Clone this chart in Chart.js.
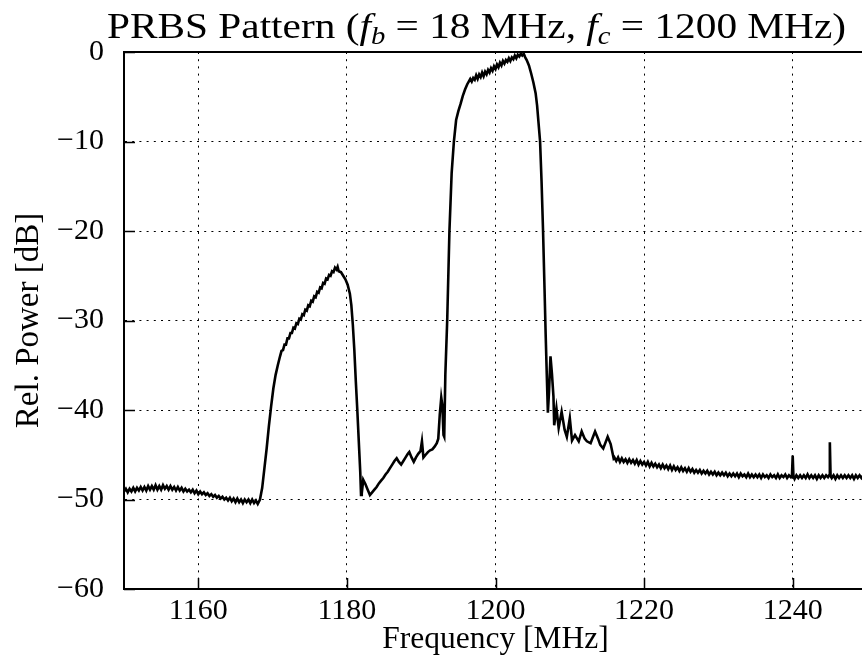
<!DOCTYPE html>
<html>
<head>
<meta charset="utf-8">
<script src="https://cdn.jsdelivr.net/npm/chart.js@4/dist/chart.umd.min.js"></script>
<style>
  html, body { margin: 0; padding: 0; background: #fff; overflow: hidden; }
  #wrap { width: 862px; height: 669px; overflow: hidden; position: relative; }
  canvas { display: block; }
</style>
</head>
<body>
<div id="wrap"><canvas id="c" width="870" height="669"></canvas></div>
<script>
// ---- data ----
const titleParts = [
  ["PRBS Pattern (", "n"], ["f", "i"], ["b", "s"], [" = 18 MHz, ", "n"],
  ["f", "i"], ["c", "s"], [" = 1200 MHz)", "n"]
];
const xAxisTitle = "Frequency [MHz]";
const yAxisTitle = "Rel. Power [dB]";
const xTickValues = [1160, 1180, 1200, 1220, 1240];
const yTickValues = [-60, -50, -40, -30, -20, -10, 0];
const yTickLabels = ["\u221260", "\u221250", "\u221240", "\u221230", "\u221220", "\u221210", "0"];

const freqMHz = [
  1150,1150.25,1150.5,1150.75,1151,1151.25,1151.5,1151.75,
  1152,1152.25,1152.5,1152.75,1153,1153.25,1153.5,1153.75,
  1154,1154.25,1154.5,1154.75,1155,1155.25,1155.5,1155.75,
  1156,1156.25,1156.5,1156.75,1157,1157.25,1157.5,1157.75,
  1158,1158.25,1158.5,1158.75,1159,1159.25,1159.5,1159.75,
  1160,1160.25,1160.5,1160.75,1161,1161.25,1161.5,1161.75,
  1162,1162.25,1162.5,1162.75,1163,1163.25,1163.5,1163.75,
  1164,1164.25,1164.5,1164.75,1165,1165.25,1165.5,1165.75,
  1166,1166.25,1166.5,1166.75,1167,1167.25,1167.5,1167.75,
  1168,1168.3,
  1168.6,1168.9,1169.2,1169.5,1169.8,1170.1,1170.4,1170.7,
  1171.0,1171.2,1171.4,1171.6,1171.8,1172.0,1172.2,1172.4,
  1172.6,1172.8,1173.0,1173.2,1173.4,1173.6,1173.8,1174.0,
  1174.2,1174.4,1174.6,1174.8,1175.0,1175.2,1175.4,1175.6,
  1175.8,1176.0,1176.2,1176.4,1176.6,1176.8,1177.0,1177.2,
  1177.4,1177.6,1177.8,1178.0,1178.2,1178.4,1178.6,
  1178.75,1178.9,1179.2,1179.5,1179.8,1180.1,1180.4,1180.6,1180.8,1181.0,1181.2,1181.4,1181.6,1181.8,1181.9,1182.0,1182.2,1182.5,1182.8,
  1183.1,1183.4,1183.7,1184.0,1184.3,1184.6,1184.9,1185.2,1185.5,1185.8,1186.1,1186.4,1186.7,
  1187.0,1187.3,1187.6,1187.9,1188.2,1188.4,1188.7,1189.0,1189.3,1189.6,1189.9,1190.1,1190.3,
  1190.6,1190.9,1191.2,1191.5,1191.8,1192.1,1192.3,1192.5,1192.7,1192.85,1193.0,1193.1,1193.25,
  1193.5,1193.8,1194.1,1194.4,1194.7,1195.0,1195.3,1195.6,1195.9,1196.2,
  1196.4,1196.6,1196.8,1197.0,1197.2,1197.4,1197.6,1197.8,
  1198.0,1198.2,1198.4,1198.6,1198.8,1199.0,1199.2,1199.4,
  1199.6,1199.8,1200.0,1200.2,1200.4,1200.6,1200.8,1201.0,
  1201.2,1201.4,1201.6,1201.8,1202.0,1202.2,1202.4,1202.6,
  1202.8,1203.0,1203.2,1203.4,1203.6,1203.8,1204.0,1204.2,
  1204.5,1204.8,1205.1,1205.4,1205.6,1205.8,1206.0,1206.2,1206.4,1206.6,1206.75,1206.9,1207.05,
  1207.2,1207.4,1207.6,1207.8,1207.9,1208.2,1208.5,1208.9,1209.3,1209.6,1210.0,1210.3,1210.7,
  1211.2,1211.6,1212.0,1212.3,1212.8,1213.4,1213.8,1214.1,1214.5,1215.1,1215.5,1215.9,
  1216,1216.25,1216.5,1216.75,1217,1217.25,1217.5,1217.75,
  1218,1218.25,1218.5,1218.75,1219,1219.25,1219.5,1219.75,
  1220,1220.25,1220.5,1220.75,1221,1221.25,1221.5,1221.75,
  1222,1222.25,1222.5,1222.75,1223,1223.25,1223.5,1223.75,
  1224,1224.25,1224.5,1224.75,1225,1225.25,1225.5,1225.75,
  1226,1226.25,1226.5,1226.75,1227,1227.25,1227.5,1227.75,
  1228,1228.25,1228.5,1228.75,1229,1229.25,1229.5,1229.75,
  1230,1230.25,1230.5,1230.75,1231,1231.25,1231.5,1231.75,
  1232,1232.25,1232.5,1232.75,1233,1233.25,1233.5,1233.75,
  1234,1234.25,1234.5,1234.75,1235,1235.25,1235.5,1235.75,
  1236,1236.25,1236.5,1236.75,1237,1237.25,1237.5,1237.75,
  1238,1238.25,1238.5,1238.75,1239,1239.25,1239.5,1239.75,
  1239.9,1240,1240.1,1240.25,1240.5,1240.75,1241,1241.25,
  1241.5,1241.75,1242,1242.25,1242.5,1242.75,1243,1243.25,
  1243.5,1243.75,1244,1244.25,1244.5,1244.75,1244.9,1245,
  1245.1,1245.25,1245.5,1245.75,1246,1246.25,1246.5,1246.75,
  1247,1247.25,1247.5,1247.75,1248,1248.25,1248.5,1248.75,
  1249,1249.25,1249.5,1249.75,1250
];
const relPowerDb = [
  -49.1,-48.8,-49.2,-48.8,-49.1,-48.7,-49.1,-48.7,
  -49.0,-48.6,-49.0,-48.6,-49.0,-48.5,-48.9,-48.5,
  -48.9,-48.4,-48.9,-48.5,-48.9,-48.4,-48.8,-48.5,
  -48.9,-48.5,-48.9,-48.6,-49.0,-48.6,-49.0,-48.7,
  -49.1,-48.8,-49.1,-48.9,-49.2,-48.9,-49.3,-49.0,
  -49.4,-49.1,-49.4,-49.2,-49.5,-49.3,-49.6,-49.4,
  -49.7,-49.5,-49.8,-49.6,-49.9,-49.7,-50.0,-49.8,
  -50.1,-49.8,-50.2,-49.9,-50.3,-49.9,-50.3,-50.0,
  -50.4,-50.0,-50.3,-50.0,-50.4,-50.0,-50.4,-50.1,
  -50.5,-50.0,
  -48.7,-46.5,-44.3,-41.8,-39.6,-37.6,-36.1,-35.0,
  -34.0,-33.4,-33.3,-32.7,-32.7,-32.0,-32.0,-31.4,
  -31.4,-30.8,-30.9,-30.3,-30.4,-29.8,-29.9,-29.3,
  -29.4,-28.8,-28.9,-28.3,-28.4,-27.8,-27.9,-27.3,
  -27.4,-26.8,-26.9,-26.3,-26.4,-25.8,-25.9,-25.3,
  -25.4,-24.9,-25.0,-24.5,-24.6,-24.1,-24.3,
  -24.0,-24.5,-24.6,-25.0,-25.4,-26.0,-27.0,-28.3,-30.5,-33.3,-36.8,-40.0,-43.5,-47.0,-49.5,-49.3,-47.8,-48.3,-48.9,
  -49.5,-49.2,-48.9,-48.6,-48.2,-47.9,-47.6,-47.2,-46.9,-46.5,-46.1,-45.7,-45.4,
  -45.8,-46.1,-45.7,-45.3,-44.9,-44.7,-45.3,-45.8,-45.3,-44.9,-44.6,-43.5,-45.3,
  -45.0,-44.7,-44.5,-44.4,-44.1,-43.7,-43.2,-40.5,-38.6,-39.5,-42.8,-43.0,-36.0,
  -30.0,-20.0,-13.5,-10.0,-7.6,-6.6,-5.8,-4.9,-4.2,-3.6,
  -3.3,-3.0,-3.3,-2.9,-3.1,-2.6,-3.0,-2.5,
  -2.8,-2.3,-2.7,-2.2,-2.5,-2.0,-2.3,-1.8,
  -2.1,-1.6,-1.9,-1.4,-1.7,-1.2,-1.5,-1.0,
  -1.3,-0.9,-1.1,-0.7,-1.0,-0.6,-0.8,-0.4,
  -0.7,-0.3,-0.5,-0.2,-0.4,-0.2,-0.6,-0.9,
  -1.5,-2.4,-3.4,-4.6,-6.0,-8.0,-10.0,-14.5,-20.0,-26.5,-31.5,-36.0,-40.3,
  -38.0,-34.0,-36.0,-38.5,-41.7,-39.8,-42.0,-40.2,-42.2,-43.0,-40.9,-43.4,-42.8,
  -43.5,-42.4,-43.2,-43.5,-43.7,-42.4,-43.2,-43.9,-44.3,-43.0,-43.8,-45.4,
  -45.3,-45.7,-45.3,-45.8,-45.4,-45.8,-45.5,-45.9,
  -45.5,-45.9,-45.6,-46.0,-45.6,-46.1,-45.7,-46.1,
  -45.8,-46.2,-45.8,-46.3,-45.9,-46.3,-46.0,-46.4,
  -46.1,-46.5,-46.1,-46.5,-46.2,-46.6,-46.2,-46.7,
  -46.3,-46.7,-46.4,-46.8,-46.4,-46.8,-46.5,-46.9,
  -46.5,-46.9,-46.6,-47.0,-46.7,-47.0,-46.7,-47.1,
  -46.8,-47.1,-46.8,-47.2,-46.9,-47.2,-46.9,-47.3,
  -47.0,-47.3,-47.0,-47.3,-47.0,-47.4,-47.1,-47.4,
  -47.1,-47.4,-47.1,-47.5,-47.1,-47.4,-47.2,-47.5,
  -47.1,-47.5,-47.2,-47.5,-47.2,-47.5,-47.2,-47.6,
  -47.2,-47.5,-47.3,-47.6,-47.2,-47.5,-47.3,-47.6,
  -47.2,-47.6,-47.3,-47.5,-47.2,-47.6,-47.3,-47.5,
  -47.3,-45.1,-47.4,-47.7,-47.3,-47.6,-47.3,-47.6,
  -47.3,-47.6,-47.2,-47.6,-47.3,-47.6,-47.3,-47.7,
  -47.3,-47.6,-47.3,-47.6,-47.3,-47.5,-47.3,-43.6,
  -47.4,-47.6,-47.3,-47.7,-47.3,-47.6,-47.3,-47.6,
  -47.3,-47.6,-47.3,-47.6,-47.3,-47.7,-47.3,-47.6,
  -47.3,-47.6,-47.3,-47.5,-47.3
];

const nPts = Math.min(freqMHz.length, relPowerDb.length);
const points = freqMHz.slice(0, nPts).map((f, i) => ({ x: f, y: relPowerDb[i] }));
const SERIF = "'Liberation Serif', 'Times New Roman', serif";

// title drawn as text segments (with italic f and subscripts)
const titlePlugin = {
  id: 'mathTitle',
  afterDraw(chart) {
    const ctx = chart.ctx;
    const size = 36;
    const fonts = {
      n: `${size}px ${SERIF}`,
      i: `italic ${size}px ${SERIF}`,
      s: `italic ${Math.round(size * 0.7)}px ${SERIF}`
    };
    ctx.save();
    let total = 0;
    for (const [t, k] of titleParts) { ctx.font = fonts[k]; total += ctx.measureText(t).width; }
    const targetW = 739, x0 = 107, base = 38;
    const sx = targetW / total;
    ctx.translate(x0, base);
    ctx.scale(sx, 1);
    ctx.fillStyle = '#000';
    ctx.textBaseline = 'alphabetic';
    ctx.textAlign = 'left';
    let x = 0;
    for (const [t, k] of titleParts) {
      ctx.font = fonts[k];
      ctx.fillText(t, x, k === 's' ? 6 : 0);
      x += ctx.measureText(t).width;
    }
    ctx.restore();
  }
};

// inward tick marks + top frame line (matplotlib classic look)
const framePlugin = {
  id: 'frame',
  afterDatasetsDraw(chart) {
    const { ctx, chartArea: a, scales } = chart;
    ctx.save();
    ctx.strokeStyle = '#000';
    ctx.lineWidth = 1.5;
    ctx.beginPath();
    for (const v of xTickValues) {
      const px = Math.round(scales.x.getPixelForValue(v)) + 0.5;
      ctx.moveTo(px, a.bottom); ctx.lineTo(px, a.bottom - 11);
    }
    for (const v of yTickValues) {
      const py = Math.round(scales.y.getPixelForValue(v)) + 0.5;
      ctx.moveTo(a.left, py); ctx.lineTo(a.left + 11, py);
    }
    ctx.stroke();
    ctx.lineWidth = 2;
    ctx.beginPath();
    ctx.moveTo(a.left - 1, a.top); ctx.lineTo(a.right + 2, a.top);
    ctx.stroke();
    ctx.restore();
  }
};

new Chart(document.getElementById('c'), {
  type: 'line',
  data: {
    datasets: [{
      data: points,
      borderColor: '#000',
      borderWidth: 2.6,
      pointRadius: 0,
      tension: 0,
      fill: false
    }]
  },
  options: {
    responsive: false,
    animation: false,
    devicePixelRatio: 1,
    color: '#000',
    layout: { padding: { top: 52, right: 3, left: 0, bottom: 0 } },
    plugins: { legend: { display: false }, title: { display: false }, tooltip: { enabled: false } },
    scales: {
      x: {
        type: 'linear',
        min: 1150, max: 1250,
        afterBuildTicks: s => { s.ticks = xTickValues.map(v => ({ value: v })); },
        afterFit: s => { s.height = 80; },
        ticks: {
          color: '#000', padding: 4, maxRotation: 0, autoSkip: false,
          font: { family: SERIF, size: 30 },
          callback: v => String(v)
        },
        grid: { color: '#000', lineWidth: 1, drawTicks: false },
        border: { color: '#000', width: 2, dash: [2, 5.2] },
        title: {
          display: true, text: xAxisTitle, color: '#000',
          font: { family: SERIF, size: 31.5 }, padding: { top: 0, bottom: 10 }
        }
      },
      y: {
        type: 'linear',
        min: -60, max: 0,
        afterBuildTicks: s => { s.ticks = yTickValues.map(v => ({ value: v })); },
        afterFit: s => { s.width = 124; },
        ticks: {
          color: '#000', padding: 20, autoSkip: false,
          font: { family: SERIF, size: 30 },
          callback: v => yTickLabels[yTickValues.indexOf(v)]
        },
        grid: { color: '#000', lineWidth: 1, drawTicks: false },
        border: { color: '#000', width: 2, dash: [2, 5.2] },
        title: {
          display: true, text: yAxisTitle, color: '#000',
          font: { family: SERIF, size: 33 }, padding: { top: 10, bottom: 0 }
        }
      }
    }
  },
  plugins: [titlePlugin, framePlugin]
});
</script>
</body>
</html>
